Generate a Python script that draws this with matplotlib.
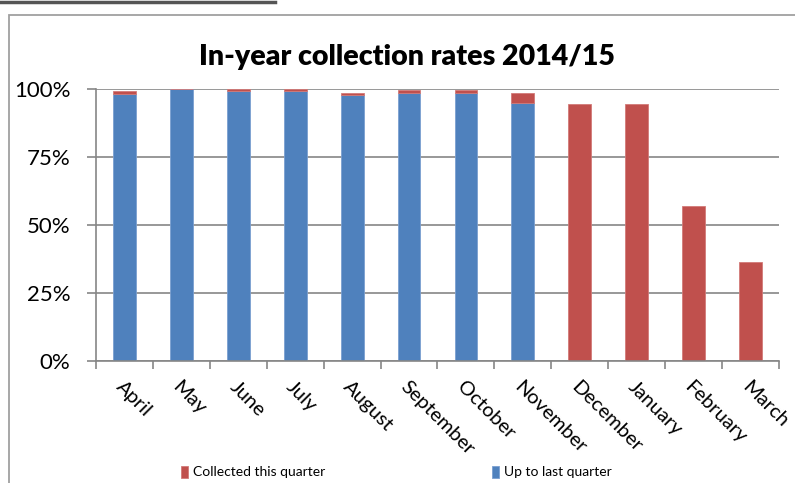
import matplotlib.pyplot as plt
from matplotlib.patches import Rectangle
from matplotlib.lines import Line2D
from matplotlib.ticker import PercentFormatter
import numpy as np

months = ["April", "May", "June", "July", "August", "September",
          "October", "November", "December", "January", "February", "March"]
# share of the year's debit collected up to the last quarter
up_to_last = [98.1, 100.0, 99.3, 99.2, 97.9, 98.8, 98.8, 95.0, 0, 0, 0, 0]
# extra collected in the current quarter
this_quarter = [1.3, 0.0, 0.7, 0.8, 0.9, 0.8, 0.8, 3.8, 94.5, 94.5, 57.0, 36.4]

BLUE = "#4F81BD"
RED = "#C0504D"
GREY = "#868686"

plt.rcParams["font.family"] = ["Lato", "DejaVu Sans"]

W, H = 795, 483
fig = plt.figure(figsize=(W / 100, H / 100), dpi=100)

# chart frame (screenshot is cropped on right and bottom)
fig.add_artist(Rectangle((8.5 / W, -0.1), 1.2, 1.1 - 15 / H, transform=fig.transFigure,
                         fill=False, edgecolor="#A0A0A0", linewidth=1.3))
fig.add_artist(Line2D([0, 275 / W], [1 - 1.5 / H, 1 - 1.5 / H], transform=fig.transFigure,
                      color="#555555", linewidth=2.5))

ax = fig.add_axes([96 / W, (H - 361) / H, (779 - 96) / W, (361 - 89.3) / H])

x = np.arange(len(months))
blue = np.array(up_to_last) / 100
red = np.array(this_quarter) / 100
b1 = ax.bar(x, blue, width=0.4, color=BLUE, edgecolor="#7A9FD1", linewidth=0.6,
            label="Up to last quarter", zorder=3)
b2 = ax.bar(x, red, width=0.4, bottom=blue, color=RED, edgecolor="#D27A78", linewidth=0.6,
            label="Collected this quarter", zorder=3)

ax.set_xlim(-0.5, len(months) - 0.5)
ax.set_ylim(0, 1.0)
ax.set_yticks([0, 0.25, 0.5, 0.75, 1.0])
ax.yaxis.set_major_formatter(PercentFormatter(1.0, decimals=0))
ax.grid(axis="y", color=GREY, linewidth=1.2, zorder=0)
ax.set_axisbelow(True)

for side in ["top", "right"]:
    ax.spines[side].set_visible(False)
for side in ["left", "bottom"]:
    ax.spines[side].set_color(GREY)
    ax.spines[side].set_linewidth(1.2)
ax.spines["bottom"].set_zorder(4)

ax.tick_params(axis="y", length=6.5, width=1.2, color=GREY, labelsize=16, pad=12)
ax.set_xticks(x)
ax.set_xticklabels(months, rotation=-45, ha="left", va="top", rotation_mode="anchor")
ax.set_xticks(np.arange(-0.5, len(months)), minor=True)
ax.tick_params(axis="x", which="major", length=0, labelsize=14.5, pad=12)
ax.tick_params(axis="x", which="minor", length=6, width=1.2, color=GREY)

fig.text(407 / W, 1 - 57 / H, "In-year collection rates 2014/15", ha="center", va="center",
         fontsize=20.5, fontweight="heavy")

fig.legend([b2, b1], ["Collected this quarter", "Up to last quarter"], ncol=2,
           loc="center left", bbox_to_anchor=(175 / W, 11 / H), frameon=False,
           fontsize=10, handlelength=0.5, handleheight=1.0, handletextpad=0.4,
           columnspacing=12.0, borderaxespad=0)

fig.savefig("out.png", dpi=100)
